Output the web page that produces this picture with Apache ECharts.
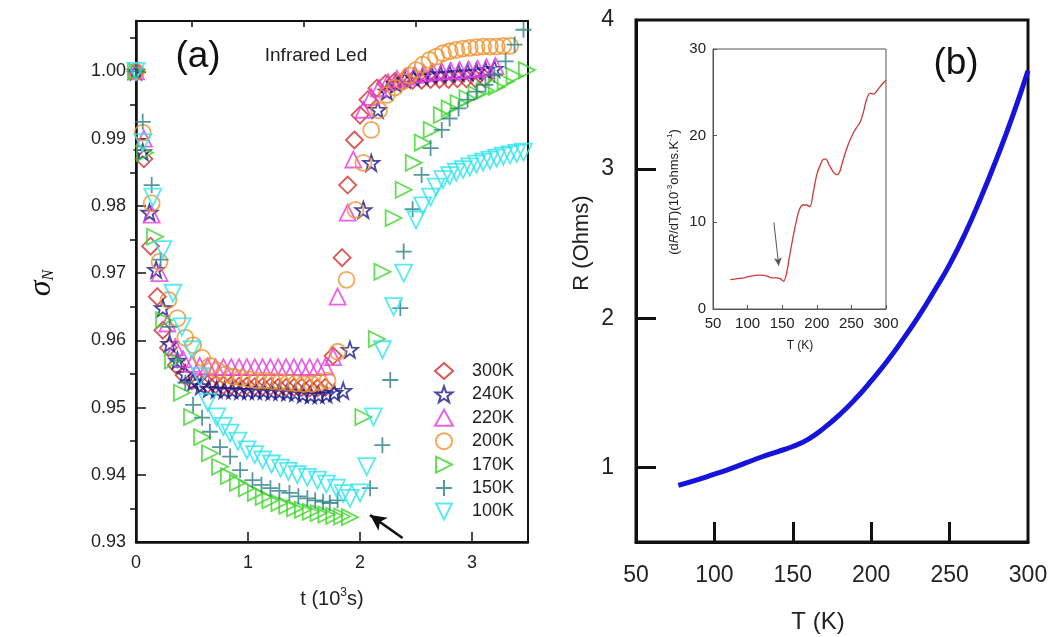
<!DOCTYPE html>
<html><head><meta charset="utf-8">
<script src="https://cdn.jsdelivr.net/npm/echarts@6/dist/echarts.min.js"></script>
<style>html,body{margin:0;padding:0;background:#fff}#c{width:1051px;height:637px}</style>
</head><body><div id="c"></div>
<script>
// ---------- Panel (a): normalized conductance vs time (t in 10^3 s) ----------
const seriesNames = ['300K','240K','220K','200K','170K','150K','100K'];
const s300 = [[0,1.000],[0.07,0.987],[0.13,0.974],[0.19,0.9665],[0.24,0.9615],[0.29,0.9589],[0.36,0.9563],[0.43,0.9548],[0.5,0.954],[0.57,0.9537],[0.64,0.9535],[0.71,0.9534],[0.78,0.9533],[0.85,0.9533],[0.92,0.9532],[0.99,0.9532],[1.06,0.9531],[1.13,0.9531],[1.2,0.9531],[1.27,0.953],[1.34,0.953],[1.41,0.953],[1.48,0.953],[1.55,0.9529],[1.62,0.9529],[1.69,0.953],[1.76,0.9577],[1.84,0.9723],[1.89,0.9831],[1.95,0.9898],[2.0,0.9935],[2.07,0.9958],[2.15,0.9975],[2.23,0.9982],[2.31,0.9985],[2.39,0.9986],[2.47,0.9987],[2.55,0.9987],[2.63,0.9988],[2.71,0.9988],[2.79,0.9988],[2.87,0.9989],[2.95,0.9989],[3.03,0.9989],[3.11,0.999]];
const s240 = [[0,1.0],[0.06,0.988],[0.12,0.979],[0.18,0.9705],[0.24,0.9648],[0.3,0.9595],[0.37,0.957],[0.44,0.955],[0.51,0.9538],[0.58,0.9532],[0.65,0.9528],[0.72,0.9527],[0.79,0.9526],[0.86,0.9526],[0.93,0.9525],[1.0,0.9525],[1.07,0.9525],[1.14,0.9525],[1.21,0.9524],[1.28,0.9524],[1.35,0.9523],[1.42,0.9522],[1.49,0.952],[1.56,0.9519],[1.63,0.9519],[1.7,0.952],[1.77,0.9522],[1.85,0.9525],[1.91,0.9586],[2.03,0.9794],[2.1,0.9864],[2.16,0.9943],[2.24,0.997],[2.32,0.9982],[2.4,0.9988],[2.48,0.9991],[2.56,0.9993],[2.64,0.9995],[2.72,0.9996],[2.8,0.9997],[2.88,0.9998],[2.96,0.9999],[3.04,1.0],[3.12,1.0002],[3.2,1.0004]];
const s220 = [[0,1.0],[0.07,0.99],[0.14,0.9787],[0.21,0.970],[0.28,0.9625],[0.35,0.959],[0.42,0.9572],[0.5,0.9565],[0.57,0.9562],[0.64,0.9561],[0.71,0.956],[0.78,0.956],[0.85,0.956],[0.92,0.956],[0.99,0.956],[1.06,0.956],[1.13,0.956],[1.2,0.956],[1.27,0.956],[1.34,0.956],[1.41,0.956],[1.48,0.956],[1.55,0.956],[1.62,0.956],[1.69,0.9561],[1.76,0.9575],[1.8,0.9665],[1.89,0.979],[1.94,0.9869],[2.03,0.9943],[2.1,0.9962],[2.17,0.9975],[2.25,0.9984],[2.33,0.9989],[2.41,0.9992],[2.49,0.9995],[2.57,0.9997],[2.65,0.9999],[2.73,1.0],[2.81,1.0001],[2.89,1.0002],[2.97,1.0003],[3.05,1.0004],[3.13,1.0006],[3.21,1.0008]];
const s200 = [[0,1.0],[0.06,0.9909],[0.14,0.9804],[0.21,0.9717],[0.29,0.966],[0.37,0.9633],[0.44,0.9604],[0.51,0.9593],[0.59,0.9574],[0.66,0.9562],[0.73,0.9555],[0.8,0.9549],[0.87,0.9546],[0.94,0.9544],[1.01,0.9542],[1.08,0.954],[1.15,0.954],[1.22,0.9539],[1.29,0.9538],[1.36,0.9537],[1.43,0.9536],[1.5,0.9535],[1.57,0.9535],[1.64,0.9538],[1.71,0.954],[1.8,0.9583],[1.88,0.969],[1.96,0.9794],[2.03,0.9864],[2.1,0.9913],[2.17,0.9942],[2.24,0.9965],[2.31,0.9976],[2.38,0.9985],[2.44,0.9994],[2.5,1.0002],[2.56,1.001],[2.62,1.0017],[2.68,1.0022],[2.74,1.0027],[2.8,1.003],[2.86,1.0032],[2.92,1.0034],[2.98,1.0035],[3.04,1.0036],[3.1,1.0037],[3.16,1.0037],[3.22,1.0037],[3.28,1.0038],[3.34,1.0038]];
const s170 = [[0,1.0],[0.08,0.9879],[0.17,0.9754],[0.25,0.963],[0.33,0.957],[0.41,0.9522],[0.5,0.9486],[0.59,0.9456],[0.66,0.9432],[0.75,0.9412],[0.83,0.9398],[0.91,0.9388],[0.99,0.938],[1.07,0.9373],[1.14,0.9367],[1.2,0.9362],[1.28,0.9358],[1.35,0.9354],[1.42,0.935],[1.49,0.9348],[1.56,0.9345],[1.63,0.9343],[1.7,0.9341],[1.77,0.9339],[1.84,0.9338],[1.91,0.9337],[2.03,0.9486],[2.15,0.9602],[2.2,0.9702],[2.3,0.9782],[2.39,0.9824],[2.48,0.9864],[2.56,0.9894],[2.64,0.9913],[2.73,0.9935],[2.8,0.9945],[2.88,0.9953],[2.96,0.996],[3.04,0.9966],[3.12,0.9972],[3.22,0.9977],[3.3,0.9985],[3.38,0.9993],[3.49,1.0002]];
const s150 = [[0,1.0],[0.06,0.9925],[0.14,0.9831],[0.22,0.972],[0.3,0.962],[0.37,0.957],[0.44,0.9537],[0.51,0.9504],[0.59,0.9485],[0.66,0.9464],[0.75,0.9441],[0.84,0.9427],[0.93,0.9407],[1.04,0.9392],[1.12,0.9385],[1.2,0.938],[1.28,0.9376],[1.37,0.9373],[1.45,0.9368],[1.53,0.9365],[1.6,0.9362],[1.67,0.936],[1.73,0.9358],[1.8,0.9362],[2.09,0.938],[2.2,0.9444],[2.27,0.9541],[2.36,0.9648],[2.39,0.9732],[2.47,0.9795],[2.55,0.9846],[2.63,0.9886],[2.73,0.9913],[2.8,0.993],[2.88,0.9945],[2.96,0.9958],[3.04,0.997],[3.12,0.998],[3.2,0.9995],[3.3,1.0015],[3.38,1.004],[3.46,1.0062]];
const s100 = [[0,1.0],[0.06,0.9894],[0.15,0.9813],[0.24,0.9735],[0.33,0.967],[0.41,0.962],[0.5,0.9586],[0.57,0.9546],[0.64,0.9508],[0.72,0.9486],[0.78,0.9472],[0.84,0.9462],[0.91,0.945],[0.99,0.9437],[1.06,0.943],[1.13,0.9422],[1.21,0.9416],[1.29,0.941],[1.36,0.9405],[1.44,0.94],[1.53,0.9396],[1.62,0.9392],[1.7,0.9386],[1.79,0.938],[1.85,0.9372],[1.91,0.9365],[2.0,0.9373],[2.06,0.9412],[2.12,0.9486],[2.2,0.9586],[2.3,0.965],[2.39,0.97],[2.5,0.9779],[2.56,0.98],[2.63,0.9813],[2.68,0.9828],[2.74,0.9839],[2.8,0.9845],[2.86,0.985],[2.92,0.9854],[2.98,0.9858],[3.04,0.9862],[3.1,0.9865],[3.16,0.9868],[3.22,0.9871],[3.28,0.9874],[3.34,0.9876],[3.4,0.9878],[3.46,0.988]];
const aXLabels = [0,1,2,3];
const aXMinor = [0.5,1.5,2.5];
const aYLabels = [0.93,0.94,0.95,0.96,0.97,0.98,0.99,1.00];
const aYMinor = [0.935,0.945,0.955,0.965,0.975,0.985,0.995,1.005];
const arrowA = [[2.38,0.9306],[2.09,0.9340]];

// ---------- Panel (b): R vs T ----------
const bT = [77,90,100,110,120,130,140,150,160,170,180,190,200,210,220,230,240,250,260,270,280,290,300];
const bR = [0.88,0.92,0.955,0.99,1.03,1.07,1.105,1.14,1.19,1.265,1.355,1.46,1.58,1.71,1.855,2.01,2.18,2.36,2.57,2.81,3.07,3.35,3.66];
const bXLabels = [50,100,150,200,250,300];
const bXTicks = [100,150,200,250];
const bYLabels = [1,2,3,4];
const bYTicks = [1,2,3];

// ---------- Inset: dR/dT vs T ----------
const insT = [75,85,95,105,115,120,128,135,142,147,152,156,160,165,170,175,180,185,190,195,200,205,210,213,218,224,229,233,238,245,252,258,263,267,272,277,282,288,294,300];
const insV = [3.4,3.5,3.6,3.8,3.9,3.9,3.8,3.6,3.6,3.5,3.2,4.0,5.8,8.0,10.0,11.5,12.0,12.0,11.8,13.5,15.5,16.6,17.3,17.3,16.6,15.8,15.5,15.8,17.2,18.9,20.2,21.0,21.6,22.6,24.2,24.9,24.8,25.3,25.9,26.4];
const arrowIns = [[138,10],[145,5]];

const FF = 'Arial, "Liberation Sans", sans-serif';
const colors = ['#d42a2a','#1a1a8c','#e23de0','#f0922e','#3fd42a','#2a7f86','#2fe3ee'];
const symbols = [
  'diamond',
  'path://M10,0L12.35,6.76L19.51,6.91L13.8,11.24L15.88,18.09L10,14L4.12,18.09L6.2,11.24L0.49,6.91L7.65,6.76Z',
  'triangle',
  'circle',
  'path://M0,0L10,5L0,10Z',
  'path://M0,5L10,5M5,0L5,10',
  'path://M0,0L10,0L5,10Z'
];
const sizes = [17,16,16,16,16,16,17];
const aData = [s300,s240,s220,s200,s170,s150,s100];

const chart = echarts.init(document.getElementById('c'), null, {renderer:'canvas'});
const scatterSeries = aData.map((d,i)=>({
  name: seriesNames[i], type:'scatter', xAxisIndex:0, yAxisIndex:0,
  data: d, symbol: symbols[i], symbolSize: sizes[i],
  itemStyle:{color:'rgba(255,255,255,0)', borderColor:colors[i], borderWidth:1.8},
  emphasis:{disabled:true}, silent:true
}));

const blackAxis = (w)=>({show:true, lineStyle:{color:'#111', width:w}});
const option = {
  animation:false,
  backgroundColor:'#fff',
  textStyle:{fontFamily:FF},
  grid:[
    {left:136, top:21, width:392, height:521, show:true, borderColor:'#111', borderWidth:2, backgroundColor:'rgba(0,0,0,0)'},
    {left:636, top:20, width:392, height:522, show:true, borderColor:'#111', borderWidth:3, backgroundColor:'rgba(0,0,0,0)'},
    {left:713, top:49, width:173, height:260, show:true, borderColor:'#555', borderWidth:1, backgroundColor:'#fff'}
  ],
  xAxis:[
    {type:'value', gridIndex:0, min:0, max:3.5, interval:1, axisLine:blackAxis(2.5),
     axisTick:{inside:true, length:10, lineStyle:{color:'#111', width:1.5}, customValues:aXLabels},
     axisLabel:{customValues:aXLabels, fontSize:18, color:'#222', margin:12, fontFamily:FF},
     splitLine:{show:false},
     name:'{a|t (10}{s|3}{a|s)}', nameLocation:'middle', nameGap:45,
     nameTextStyle:{rich:{a:{fontSize:20, color:'#222', fontFamily:FF}, s:{fontSize:12, color:'#222', fontFamily:FF, padding:[0,0,12,0]}}}},
    {type:'value', gridIndex:0, min:0, max:3.5, axisLine:{show:false},
     axisTick:{inside:true, length:6, lineStyle:{color:'#111', width:1.5}, customValues:aXMinor},
     axisLabel:{show:false}, splitLine:{show:false}},
    {type:'value', gridIndex:1, min:50, max:300, interval:50, axisLine:blackAxis(3),
     axisTick:{inside:true, length:20, lineStyle:{color:'#111', width:3}, customValues:bXTicks},
     axisLabel:{customValues:bXLabels, fontSize:23, color:'#222', margin:22, fontFamily:FF},
     splitLine:{show:false}},
    {type:'value', gridIndex:2, min:50, max:300, interval:50, axisLine:{show:true, lineStyle:{color:'#555', width:1}},
     axisTick:{inside:true, length:4, lineStyle:{color:'#555', width:1}},
     axisLabel:{fontSize:15, color:'#222', margin:7, fontFamily:FF},
     splitLine:{show:false}}
  ],
  yAxis:[
    {type:'value', gridIndex:0, min:0.93, max:1.0075, interval:0.01, axisLine:blackAxis(2.5),
     axisTick:{inside:true, length:10, lineStyle:{color:'#111', width:1.5}, customValues:aYLabels},
     axisLabel:{customValues:aYLabels, fontSize:18, color:'#222', margin:10, fontFamily:FF, formatter:v=>v.toFixed(2)},
     splitLine:{show:false}},
    {type:'value', gridIndex:0, min:0.93, max:1.0075, axisLine:{show:false},
     axisTick:{inside:true, length:6, lineStyle:{color:'#111', width:1.5}, customValues:aYMinor},
     axisLabel:{show:false}, splitLine:{show:false}},
    {type:'value', gridIndex:1, min:0.5, max:4, axisLine:blackAxis(3),
     axisTick:{inside:true, length:20, lineStyle:{color:'#111', width:3}, customValues:bYTicks},
     axisLabel:{customValues:bYLabels, fontSize:23, color:'#222', margin:22, fontFamily:FF},
     splitLine:{show:false}},
    {type:'value', gridIndex:2, min:0, max:30, interval:10, axisLine:{show:true, lineStyle:{color:'#555', width:1}},
     axisTick:{inside:true, length:4, lineStyle:{color:'#555', width:1}},
     axisLabel:{fontSize:15, color:'#222', margin:7, fontFamily:FF},
     splitLine:{show:false}}
  ],
  legend:{
    data: seriesNames, orient:'vertical', left:429, top:357,
    itemWidth:18, itemHeight:16, itemGap:5.4,
    textStyle:{fontSize:18, color:'#222', fontFamily:FF, lineHeight:16, padding:[0,0,0,14]},
    selectedMode:false
  },
  series: [
    ...scatterSeries,
    {type:'scatter', xAxisIndex:0, yAxisIndex:0, data:[], silent:true,
     markLine:{silent:true, symbol:['none','arrow'], symbolSize:[12,16], label:{show:false},
       lineStyle:{color:'#111', width:2.5, type:'solid'}, emphasis:{disabled:true},
       data:[[{coord:arrowA[0]},{coord:arrowA[1]}]]}},
    {type:'line', xAxisIndex:2, yAxisIndex:2, data: bT.map((t,i)=>[t,bR[i]]),
     smooth:true, showSymbol:false, lineStyle:{color:'#1414dc', width:5}, silent:true},
    {type:'line', xAxisIndex:3, yAxisIndex:3, data: insT.map((t,i)=>[t,insV[i]]),
     smooth:0.3, showSymbol:false, lineStyle:{color:'#cc3b3b', width:1.3}, silent:true,
     markLine:{silent:true, symbol:['none','arrow'], symbolSize:[6,8], label:{show:false},
       lineStyle:{color:'#555', width:1, type:'solid'}, emphasis:{disabled:true},
       data:[[{coord:arrowIns[0]},{coord:arrowIns[1]}]]}}
  ],
  graphic:[
    {type:'text', x:198, y:57, style:{text:'(a)', font:'37px '+FF, fill:'#111', align:'center', verticalAlign:'middle'}},
    {type:'text', x:316, y:56, style:{text:'Infrared Led', font:'19px '+FF, fill:'#222', align:'center', verticalAlign:'middle'}},
    {type:'text', x:956, y:64, style:{text:'(b)', font:'37px '+FF, fill:'#111', align:'center', verticalAlign:'middle'}},
    {type:'text', x:42, y:283, rotation:Math.PI/2,
     style:{text:'{s|σ}{n|N}', align:'center', verticalAlign:'middle', fill:'#111',
       rich:{s:{fontSize:32, fontFamily:'"Liberation Serif","DejaVu Serif",serif', fontStyle:'italic', fill:'#111'},
             n:{fontSize:16, fontFamily:'"Liberation Serif","DejaVu Serif",serif', fontStyle:'italic', fill:'#111', padding:[14,0,0,0]}}}},
    {type:'text', x:582, y:243, rotation:Math.PI/2,
     style:{text:'R (Ohms)', font:'22px '+FF, fill:'#222', align:'center', verticalAlign:'middle'}},
    {type:'text', x:818, y:622, style:{text:'T (K)', font:'24px '+FF, fill:'#222', align:'center', verticalAlign:'middle'}},
    {type:'text', x:674, y:192, rotation:Math.PI/2,
     style:{text:'(d{i|R}/dT)(10{p|-3}ohms.K{p|-1})', align:'center', verticalAlign:'middle', fill:'#222',
       font:'13px '+FF,
       rich:{i:{fontSize:13, fontStyle:'italic', fontFamily:FF, fill:'#222'},
             p:{fontSize:8, fontFamily:FF, fill:'#222', padding:[0,0,8,0]}}}},
    {type:'text', x:800, y:346, style:{text:'T (K)', font:'12px '+FF, fill:'#222', align:'center', verticalAlign:'middle'}}
  ]
};
chart.setOption(option);
</script></body></html>
